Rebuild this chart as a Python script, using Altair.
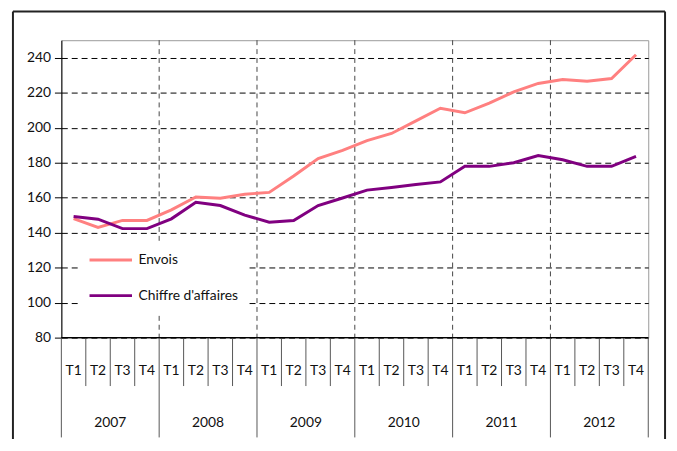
import altair as alt
import pandas as pd

years = ["2007", "2008", "2009", "2010", "2011", "2012"]
quarters = ["T1", "T2", "T3", "T4"]
envois = [148, 143, 147, 147, 153, 160.4, 159.7, 162, 163, 172.4, 182.4, 187,
          192.6, 196.7, 203.9, 211.1, 208.5, 214, 220.5, 225.3, 227.5, 226.6, 228.1, 241.7]
chiffre = [149.2, 147.7, 142.3, 142.3, 147.9, 157.4, 155.5, 150, 146, 146.9, 155.5, 159.8,
           164.3, 165.8, 167.5, 169, 177.9, 177.9, 180, 184.1, 181.7, 177.9, 177.9, 183.6]
y_ticks = [80, 100, 120, 140, 160, 180, 200, 220, 240]
series_names = ["Envois", "Chiffre d'affaires"]
colors = ["#ff8080", "#800080"]

n = len(years) * len(quarters)
rows = []
for name, vals in zip(series_names, [envois, chiffre]):
    for i, v in enumerate(vals):
        rows.append({"pos": i + 0.5, "value": v, "serie": name})
df = pd.DataFrame(rows)

qlab = pd.DataFrame({"pos": [i + 0.5 for i in range(n)],
                     "label": [quarters[i % 4] for i in range(n)]})
ylab = pd.DataFrame({"pos": [k * 4 + 2 for k in range(len(years))], "label": years})
qsep = pd.DataFrame({"pos": [i for i in range(n + 1) if i % 4 != 0]})
ysep = pd.DataFrame({"pos": [k * 4 for k in range(len(years) + 1)]})
vgrid = pd.DataFrame({"pos": [k * 4 for k in range(1, len(years))]})
one = pd.DataFrame({"a": [0]})

W, H = 594, 301
FONT = "Lato"
TXT = "#111"

xs = alt.Scale(domain=[0, n], nice=False, zero=False)
ys = alt.Scale(domain=[80, 250], nice=False, zero=False)
yaxis = alt.Axis(values=y_ticks, grid=True, gridDash=[6, 4], gridColor="black",
                 gridWidth=1, tickSize=7, tickColor="black", domainColor="black",
                 labelFont=FONT, labelFontSize=14, labelColor=TXT,
                 labelOverlap=False, labelPadding=4, title=None)

X = lambda: alt.X("pos:Q", scale=xs, axis=None)

vg = alt.Chart(vgrid).mark_rule(color="#444", strokeDash=[5, 4], strokeWidth=1).encode(x=X())

qs = alt.Chart(qsep).mark_rule(color="#555", strokeWidth=1).encode(
    x=X(), y=alt.value(H), y2=alt.value(H + 49))
ysp = alt.Chart(ysep).mark_rule(color="#555", strokeWidth=1).encode(
    x=X(), y=alt.value(H), y2=alt.value(H + 101))

qt = alt.Chart(qlab).mark_text(font=FONT, fontSize=14, color=TXT, baseline="middle").encode(
    x=X(), y=alt.value(335), text="label:N")
yt = alt.Chart(ylab).mark_text(font=FONT, fontSize=14, color=TXT, baseline="middle").encode(
    x=X(), y=alt.value(387), text="label:N")

bottom = alt.Chart(one).mark_rule(color="black", strokeWidth=1.5).encode(
    y=alt.Y(datum=80, scale=ys, axis=yaxis))

lines = alt.Chart(df).mark_line(strokeWidth=3).encode(
    x=X(),
    y=alt.Y("value:Q", scale=ys, axis=yaxis),
    color=alt.Color("serie:N", scale=alt.Scale(domain=series_names, range=colors),
                    legend=alt.Legend(title=None, orient="none", legendX=19, legendY=204,
                                      fillColor="white", padding=8, symbolType="stroke",
                                      symbolSize=1849, symbolStrokeWidth=3, clipHeight=21,
                                      rowPadding=15, labelFont=FONT, labelFontSize=14,
                                      labelColor=TXT, labelOffset=5)),
    order="pos:Q",
)

fl = alt.Chart(one).mark_rule(color="#222", strokeWidth=2).encode(
    x=alt.value(-49), y=alt.value(-29), y2=alt.value(420))
fr = alt.Chart(one).mark_rule(color="#222", strokeWidth=2).encode(
    x=alt.value(611), y=alt.value(-29), y2=alt.value(420))
ft = alt.Chart(one).mark_rule(color="#222", strokeWidth=2).encode(
    x=alt.value(-49), x2=alt.value(611), y=alt.value(-29))

chart = alt.layer(vg, qs, ysp, qt, yt, bottom, lines, fl, fr, ft).properties(
    width=W, height=H,
    padding={"left": 54, "top": 30, "right": 21, "bottom": 100},
    autosize=alt.AutoSizeParams(type="none"),
    background="white",
).configure_view(stroke="#999", strokeWidth=1)

chart.save("out.html", embed_options={"renderer": "svg", "actions": False})
